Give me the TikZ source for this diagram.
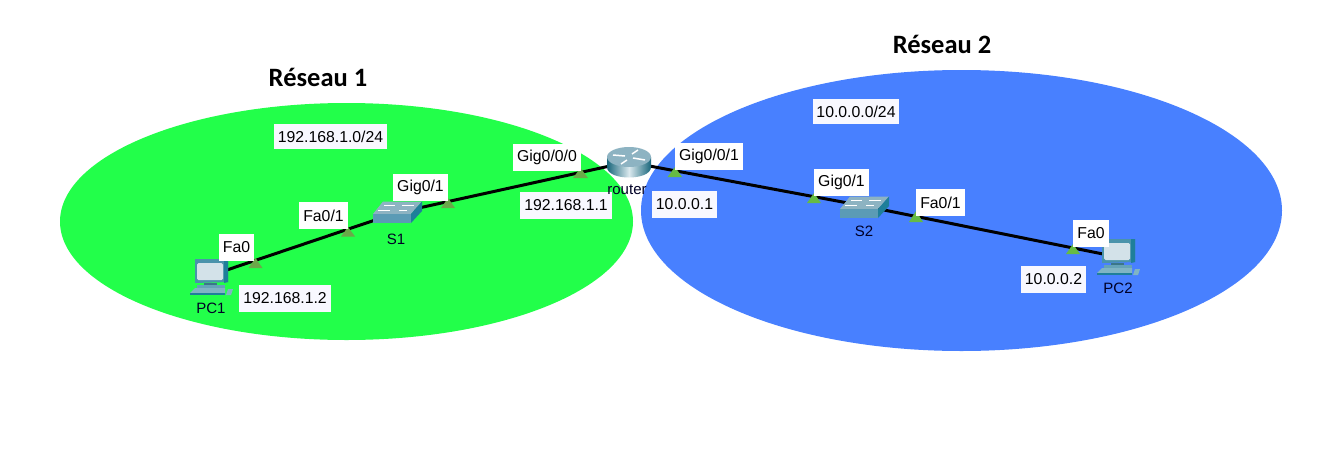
\documentclass[tikz,border=0pt]{standalone}
\usepackage{fontspec}
\setmainfont{Liberation Sans}
\newfontfamily\titlefont{Carlito}
\definecolor{netgreen}{HTML}{22FF4A}
\definecolor{netblue}{HTML}{4880FF}
\definecolor{porta}{HTML}{6BA84A}
\definecolor{portb}{HTML}{66BB44}
\definecolor{ipbg}{HTML}{F8F8FF}
\definecolor{frameC}{HTML}{4A93AB}
\definecolor{frameD}{HTML}{1F7F9A}
\definecolor{screenC}{HTML}{D3E2E9}
\definecolor{topC}{HTML}{8DB3C2}
\definecolor{frontC}{HTML}{5B9BB5}
\tikzset{
  x=1pt,y=-1pt,
  link/.style={line width=3pt,black},
  anchorbox/.style={inner sep=0pt,minimum width=#1,minimum height=#1},
  lbl/.style={fill=white,inner sep=0pt,font=\fontsize{15.8}{17}\selectfont,text=black},
  iplbl/.style={lbl,fill=ipbg},
  dev/.style={inner sep=0pt,font=\fontsize{15}{17}\selectfont,text=black!85!blue},
  title/.style={inner sep=0pt,font=\titlefont\bfseries\fontsize{26.5}{28}\selectfont},
  port/.style={draw=none,fill=#1},
  pcicon/.pic={
    \fill[frameC] (-14,-19) -- (19,-19) -- (19,4) -- (-14,5) -- cycle;
    \fill[frameD] (15,-19) -- (19,-19) -- (19,4) -- (15,5) -- cycle;
    \fill[screenC,rounded corners=1.5pt] (-12,-15) rectangle (14,2);
    \fill[frameC!80!black] (-5,5) rectangle (8,7);
    \fill[frameC!85!white] (-12,7) rectangle (16,10);
    \fill[frameC!70!white] (-19,15) -- (-14,10) -- (16,10) -- (16,15) -- cycle;
    \fill[frameD] (-19,15) rectangle (16,17);
    \fill[frameC!70!white] (17,17) -- (19,11) -- (24,11) -- (22,17) -- cycle;
  },
  switchicon/.pic={
    \fill[topC] (-24,1) -- (-14,-11.5) -- (25,-11.5) -- (14,1) -- cycle;
    \fill[frontC] (-24,1) rectangle (14,10);
    \fill[frameD] (14,1) -- (25,-11.5) -- (25,-2) -- (14,10) -- cycle;
    \draw[white,line width=0.9pt] (-13,-8) -- (-2,-8) (5,-8) -- (17,-8) (-19,-3) -- (-7,-3) (2,-3) -- (10,-3);
  },
  routericon/.pic={
    \shade[left color=frameD!80!black,right color=frameD!80!black,middle color=white!80!frameC]
      (-22,-6) -- (-22,4) .. controls (-22,18) and (22,18) .. (22,4) -- (22,-6) -- cycle;
    \fill[topC] (0,-6) ellipse[x radius=22,y radius=10];
    \draw[white,line width=1.5pt] (-16,-8) -- (-4,-7) (4,-5) -- (16,-3) (-2,-3) -- (-8,1) (3,-9) -- (9,-13);
  },
}
\begin{document}
\begin{tikzpicture}
\useasboundingbox (0,0) rectangle (1318,469);
\fill[white] (0,0) rectangle (1318,469);
\fill[netgreen] (346.5,221.5) ellipse[x radius=286.5,y radius=118.5];
\fill[netblue] (961.5,210.5) ellipse[x radius=320.5,y radius=140.5];
\node[title] (t1) at (318,77) {Réseau 1};
\node[title] (t2) at (942,44) {Réseau 2};
% anchors
\node[anchorbox=36pt] (pc1) at (209,276) {};
\node[anchorbox=36pt] (s1) at (396,213) {};
\node[anchorbox=36pt] (router) at (628,162) {};
\node[anchorbox=36pt] (s2) at (864,206) {};
\node[anchorbox=36pt] (pc2) at (1118,257) {};
% links
\draw[link] (pc1.center) -- (s1.center);
\draw[link] (s1.center) -- (router.center);
\draw[link] (router.center) -- (s2.center);
\draw[link] (s2.center) -- (pc2.center);
% icons
\pic at (209,278) {pcicon};
\pic at (397,213) {switchicon};
\pic at (629,163) {routericon};
\pic at (864,208) {switchicon};
\pic at (1116,258) {pcicon};
% ports
\fill[port=porta] (248.5,268) -- (255.5,258) -- (262.5,268) -- cycle;
\fill[port=porta] (341,236.5) -- (348,227) -- (355,236.5) -- cycle;
\fill[port=porta] (441,208) -- (448,198) -- (455,208) -- cycle;
\fill[port=porta] (573,178) -- (580.5,168) -- (588,178) -- cycle;
\fill[port=portb] (667.5,177) -- (675,167) -- (682,177) -- cycle;
\fill[port=portb] (807,203) -- (814,193) -- (821,203) -- cycle;
\fill[port=portb] (909,222) -- (916,211) -- (923,222) -- cycle;
\fill[port=portb] (1066,254) -- (1073,244) -- (1080,254) -- cycle;
% labels
\node[lbl,minimum width=35pt,minimum height=27pt] (a1) at (236.5,247.5) {Fa0};
\node[lbl,minimum width=49pt,minimum height=27pt] (a2) at (323.5,215.5) {Fa0/1};
\node[lbl,minimum width=55pt,minimum height=27pt] (a3) at (420.5,187.5) {Gig0/1};
\node[lbl,minimum width=68pt,minimum height=27pt] (a4) at (547,157.5) {Gig0/0/0};
\node[lbl,minimum width=68pt,minimum height=27pt] (a5) at (709,156) {Gig0/0/1};
\node[lbl,minimum width=55pt,minimum height=27pt] (a6) at (841.5,182.5) {Gig0/1};
\node[lbl,minimum width=49pt,minimum height=27pt] (a7) at (940.5,202.5) {Fa0/1};
\node[lbl,minimum width=36pt,minimum height=27pt] (a8) at (1091,233.5) {Fa0};
\node[iplbl,minimum width=113pt,minimum height=25pt] (b1) at (330.5,136.5) {192.168.1.0/24};
\node[iplbl,minimum width=92pt,minimum height=27pt] (b2) at (285,298.5) {192.168.1.2};
\node[iplbl,minimum width=92pt,minimum height=27pt] (b3) at (566,205.5) {192.168.1.1};
\node[iplbl,minimum width=65pt,minimum height=27pt] (b4) at (684.5,204.5) {10.0.0.1};
\node[iplbl,minimum width=86pt,minimum height=25pt] (b5) at (856,111.5) {10.0.0.0/24};
\node[iplbl,minimum width=65pt,minimum height=27pt] (b6) at (1053.5,279.5) {10.0.0.2};
% device names
\node[dev] (n1) at (211,308) {PC1};
\node[dev] (n2) at (396,239) {S1};
\node[dev] (n3) at (627,190) {router};
\node[dev] (n4) at (864,231) {S2};
\node[dev] (n5) at (1118,288) {PC2};
\end{tikzpicture}
\end{document}
